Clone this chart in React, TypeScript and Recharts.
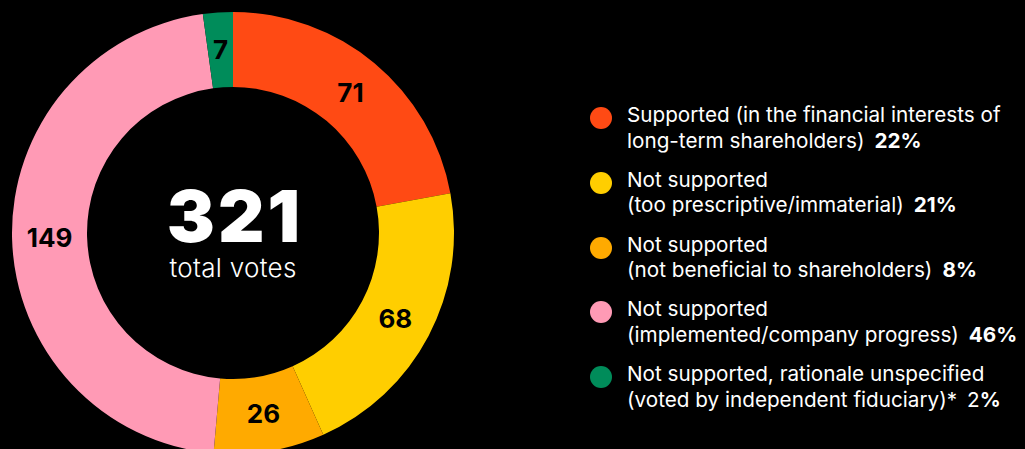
import React from "react";
import { PieChart, Pie, Cell, Legend, Customized } from "recharts";

const categories = [
  "Supported",
  "Not supported (too prescriptive/immaterial)",
  "Not supported (not beneficial to shareholders)",
  "Not supported (implemented/company progress)",
  "Not supported, rationale unspecified",
];
const votes = [71, 68, 26, 149, 7];
const colors = ["#FF4A14", "#FFCE00", "#FFAA00", "#FF9AB5", "#008C5A"];
const legendLine1 = [
  "Supported (in the financial interests of",
  "Not supported",
  "Not supported",
  "Not supported",
  "Not supported, rationale unspecified",
];
const legendLine2 = [
  "long-term shareholders)",
  "(too prescriptive/immaterial)",
  "(not beneficial to shareholders)",
  "(implemented/company progress)",
  "(voted by independent fiduciary)*",
];
const percentLabels = ["22", "21", "8", "46", "2"];
const percentNumBold = [true, true, true, true, false];
const totalLabel = "321";
const totalCaption = "total votes";

const data = categories.map((name, i) => ({ name, value: votes[i] }));

const FONT = "Inter, 'Noto Sans', sans-serif";
const RADIAN = Math.PI / 180;
const CX = 233;
const CY = 233;

const renderSliceLabel = (props: any) => {
  const { cx, cy, midAngle, innerRadius, outerRadius, value } = props;
  const r = (innerRadius + outerRadius) / 2;
  const x = cx + r * Math.cos(-midAngle * RADIAN);
  const y = cy + r * Math.sin(-midAngle * RADIAN);
  return (
    <text
      x={x}
      y={y}
      fill="#000"
      textAnchor="middle"
      dominantBaseline="central"
      style={{ fontFamily: FONT, fontWeight: 700, fontSize: 26 }}
    >
      {value}
    </text>
  );
};

const CenterText = () => (
  <g>
    <text
      x={CX + 2}
      y={CY + 9}
      fill="#fff"
      textAnchor="middle"
      style={{ fontFamily: FONT, fontWeight: 900, fontSize: 72, letterSpacing: 3 }}
    >
      {totalLabel}
    </text>
    <text
      x={CX}
      y={CY + 44}
      fill="#fff"
      textAnchor="middle"
      style={{ fontFamily: FONT, fontWeight: 300, fontSize: 26, letterSpacing: 0.3 }}
    >
      {totalCaption}
    </text>
  </g>
);

const renderLegend = () => (
  <div style={{ position: "relative", width: 440, height: 340, fontFamily: FONT, color: "#fff" }}>
    {categories.map((c, i) => {
      const top = i * 64.75;
      return (
        <div key={c} style={{ position: "absolute", left: 0, top, width: 440 }}>
          <div
            style={{
              position: "absolute",
              left: 0,
              top: 5,
              width: 22,
              height: 22,
              borderRadius: 11,
              background: colors[i],
            }}
          />
          <div
            style={{
              position: "absolute",
              left: 37,
              top: 0,
              fontSize: 20.7,
              lineHeight: "25.5px",
              whiteSpace: "nowrap",
              fontWeight: 400,
            }}
          >
            <div>{legendLine1[i]}</div>
            <div>
              {legendLine2[i]}
              <span style={{ marginLeft: 10 }}>
                <span style={{ fontWeight: percentNumBold[i] ? 700 : 400 }}>{percentLabels[i]}</span>
                <span style={{ fontWeight: 700 }}>%</span>
              </span>
            </div>
          </div>
        </div>
      );
    })}
  </div>
);

export default function App() {
  return (
    <div
      style={{
        position: "fixed",
        left: 0,
        top: 0,
        width: 1025,
        height: 449,
        background: "#000",
        overflow: "hidden",
      }}
    >
      <PieChart width={1025} height={449} margin={{ top: 0, right: 0, bottom: 0, left: 0 }}>
        <Pie
          data={data}
          dataKey="value"
          nameKey="name"
          cx={CX}
          cy={CY}
          innerRadius={146}
          outerRadius={221}
          startAngle={90}
          endAngle={-270}
          stroke="none"
          label={renderSliceLabel}
          labelLine={false}
          isAnimationActive={false}
        >
          {data.map((d, i) => (
            <Cell key={d.name} fill={colors[i]} />
          ))}
        </Pie>
        <Customized component={CenterText} />
        <Legend
          content={renderLegend}
          wrapperStyle={{ position: "absolute", left: 590, top: 102, width: 440, height: 340 }}
        />
      </PieChart>
    </div>
  );
}
